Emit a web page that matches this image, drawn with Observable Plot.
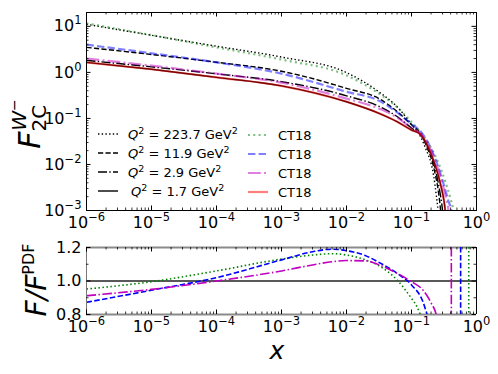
<!DOCTYPE html>
<html><head><meta charset="utf-8">
<script src="https://cdn.jsdelivr.net/npm/d3@7"></script>
<script src="https://cdn.jsdelivr.net/npm/@observablehq/plot@0.6"></script>
<style>
body{margin:0;background:#fff;}
#chart{position:relative;width:498px;height:374px;overflow:hidden;font-family:"DejaVu Sans";background:#fff;}
#chart svg{display:block;}
</style></head><body><div id="chart"></div>
<script>
// ---------- tick values and labels ----------
const xTicks = [1e-6, 1e-5, 1e-4, 1e-3, 1e-2, 1e-1, 1];
const xTickLabels = ["10^−6", "10^−5", "10^−4", "10^−3", "10^−2", "10^−1", "10^0"];
const yTopTicks = [1e-3, 1e-2, 1e-1, 1, 10];
const yTopTickLabels = ["10^−3", "10^−2", "10^−1", "10^0", "10^1"];
const yBotTicks = [0.8, 1.0, 1.2];
const yBotTickLabels = ["0.8", "1.0", "1.2"];
const yBotMinor = [0.9, 1.1];

// ---------- legend texts ----------
const q2Values = ["223.7", "11.9", "2.9", "1.7"];
const pdfName = "CT18";

// ---------- top panel: F2C^W- (this work, black) ----------
const xQ223 = [1e-6, 1e-5, 1e-4, 1e-3, 1e-2, 0.033, 0.06, 0.1, 0.138, 0.17, 0.2, 0.22, 0.24, 0.255, 0.265];
const fQ223 = [11.1, 6.4, 3.7, 2.15, 0.99, 0.36, 0.18, 0.074, 0.040, 0.020, 0.0105, 0.0055, 0.0022, 0.001, 0.0004];
const xQ119 = [1e-6, 1e-5, 1e-4, 1e-3, 1e-2, 0.033, 0.06, 0.1, 0.138, 0.17, 0.2, 0.23, 0.26, 0.28, 0.29];
const fQ119 = [3.5, 2.45, 1.66, 1.06, 0.45, 0.26, 0.141, 0.073, 0.047, 0.025, 0.014, 0.0065, 0.0025, 0.001, 0.0005];
const xQ29 = [1e-6, 1e-5, 1e-4, 1e-3, 1e-2, 0.033, 0.06, 0.1, 0.138, 0.17, 0.2, 0.24, 0.27, 0.30, 0.31];
const fQ29 = [1.82, 1.32, 0.93, 0.63, 0.31, 0.178, 0.11, 0.062, 0.044, 0.027, 0.016, 0.0065, 0.0028, 0.001, 0.0006];
const xQ17 = [1e-6, 1e-5, 1e-4, 1e-3, 1e-2, 0.033, 0.06, 0.1, 0.138, 0.2, 0.25, 0.29, 0.31, 0.33, 0.34];
const fQ17 = [1.65, 1.17, 0.78, 0.51, 0.23, 0.126, 0.085, 0.056, 0.045, 0.017, 0.0068, 0.003, 0.0019, 0.001, 0.0006];

// ---------- top panel: CT18 (coloured) ----------
const xCT223 = [1e-6, 1e-5, 1e-4, 1e-3, 1e-2, 0.033, 0.06, 0.1, 0.138, 0.196, 0.263, 0.333, 0.398, 0.438, 0.45];
const fCT223 = [11.6, 6.45, 3.5, 1.9, 0.86, 0.333, 0.176, 0.083, 0.050, 0.024, 0.0103, 0.0041, 0.0018, 0.001, 0.0007];
const xCT119 = [1e-6, 1e-5, 1e-4, 1e-3, 1e-2, 0.033, 0.06, 0.1, 0.138, 0.2, 0.26, 0.32, 0.37, 0.41, 0.42];
const fCT119 = [4.0, 2.6, 1.65, 0.94, 0.38, 0.235, 0.135, 0.075, 0.052, 0.022, 0.0085, 0.0033, 0.0016, 0.001, 0.0007];
const xCT29 = [1e-6, 1e-5, 1e-4, 1e-3, 1e-2, 0.033, 0.06, 0.1, 0.138, 0.2, 0.26, 0.31, 0.345, 0.37, 0.38];
const fCT29 = [2.0, 1.40, 0.94, 0.60, 0.27, 0.16, 0.105, 0.062, 0.046, 0.02, 0.0075, 0.0032, 0.0017, 0.001, 0.0006];
const xCT17 = [1e-6, 1e-5, 1e-4, 1e-3, 1e-2, 0.033, 0.06, 0.1, 0.138, 0.2, 0.25, 0.29, 0.31, 0.33, 0.34];
const fCT17 = [1.65, 1.17, 0.78, 0.51, 0.23, 0.126, 0.085, 0.056, 0.045, 0.017, 0.0068, 0.003, 0.0019, 0.001, 0.0006];

// ---------- bottom panel: ratio F / F^PDF ----------
const xR223 = [1e-6, 1e-5, 1e-4, 1e-3, 3e-3, 6e-3, 1e-2, 0.02, 0.03, 0.06, 0.1, 0.12, 0.137, 0.15];
const rR223 = [0.952, 0.996, 1.06, 1.131, 1.155, 1.163, 1.155, 1.125, 1.096, 1.006, 0.896, 0.85, 0.8, 0.76];
const xR119 = [1e-6, 1e-5, 1e-4, 1e-3, 3e-3, 6e-3, 1e-2, 0.02, 0.03, 0.06, 0.1, 0.15, 0.174, 0.185];
const rR119 = [0.873, 0.945, 1.02, 1.126, 1.175, 1.19, 1.181, 1.15, 1.116, 1.046, 0.976, 0.876, 0.8, 0.77];
const xR29 = [1e-6, 1e-5, 1e-4, 1e-3, 3e-3, 6e-3, 1e-2, 0.02, 0.03, 0.06, 0.1, 0.15, 0.2, 0.24, 0.25];
const rR29 = [0.912, 0.95, 1.0, 1.06, 1.096, 1.115, 1.122, 1.12, 1.10, 1.046, 0.996, 0.946, 0.87, 0.8, 0.77];
// positions where the ratios jump (vertical strokes)
const xJump223 = [0.76];
const xJump119 = [0.57];
const xJump29 = [0.41];

// ---------- helpers ----------
const rows = (xs, ys) => xs.map((x, i) => ({x, y: ys[i]}));
const minorLog = (k0, k1) => { const a = []; for (let k = k0; k <= k1; k++) for (let m = 2; m <= 9; m++) a.push(m * Math.pow(10, k)); return a; };
const xMinor = minorLog(-6, -1);
const yTopMinor = minorLog(-3, 0).concat([20]);
const NS = "http://www.w3.org/2000/svg";

const W = 498, L = 86, R = 22;
const topH = 240, topMT = 12, topMB = 30;
const botH = 134, botMT = 7, botMB = 60;
const fw = W - L - R;
const fhT = topH - topMT - topMB;
const fhB = botH - botMT - botMB;
const MAJ = 4.5, MIN = 2.5;

const sBlack = {dotted: "1.4,2.3", dashed: "5.2,2.3", dashdot: "9,2.3,1.4,2.3", solid: null};
const sCol = {dotted: "2,3.3", dashed: "7.4,3.2", dashdot: "12.8,3.2,2,3.2", solid: null};
const sBot = {dotted: "1.5,2.5", dashed: "5.5,2.4", dashdot: "9.6,2.4,1.5,2.4"};

function blackLine(xs, ys, dash) {
  return Plot.line(rows(xs, ys), {x: "x", y: "y", stroke: "black", strokeWidth: 1.4, strokeDasharray: dash, strokeLinecap: "butt", curve: "monotone-x", clip: true});
}
function colLine(xs, ys, color, dash) {
  return Plot.line(rows(xs, ys), {x: "x", y: "y", stroke: color, strokeOpacity: 0.5, strokeWidth: 2.2, strokeDasharray: dash, strokeLinecap: "butt", curve: "monotone-x", clip: true});
}
function botLine(xs, ys, color, dash) {
  return Plot.line(rows(xs, ys), {x: "x", y: "y", stroke: color, strokeWidth: 1.6, strokeDasharray: dash, strokeLinecap: "butt", curve: "monotone-x", clip: true});
}
function inwardTicks(xT, xMin, yT, yMin, fh) {
  return [
    Plot.ruleX(xT, {x: d => d, insetTop: fh - MAJ, stroke: "black"}),
    Plot.ruleX(xT, {x: d => d, insetBottom: fh - MAJ, stroke: "black"}),
    Plot.ruleX(xMin, {x: d => d, insetTop: fh - MIN, stroke: "black", strokeWidth: 0.8}),
    Plot.ruleX(xMin, {x: d => d, insetBottom: fh - MIN, stroke: "black", strokeWidth: 0.8}),
    Plot.ruleY(yT, {y: d => d, insetRight: fw - MAJ, stroke: "black"}),
    Plot.ruleY(yT, {y: d => d, insetLeft: fw - MAJ, stroke: "black"}),
    Plot.ruleY(yMin, {y: d => d, insetRight: fw - MIN, stroke: "black", strokeWidth: 0.8}),
    Plot.ruleY(yMin, {y: d => d, insetLeft: fw - MIN, stroke: "black", strokeWidth: 0.8})
  ];
}
function supify(svg, sel) {
  svg.querySelectorAll(sel).forEach(t => {
    const s = t.textContent, i = s.indexOf("^");
    if (i < 0) return;
    t.textContent = "";
    const a = document.createElementNS(NS, "tspan"); a.textContent = s.slice(0, i); t.appendChild(a);
    const b = document.createElementNS(NS, "tspan"); b.textContent = s.slice(i + 1);
    b.setAttribute("dy", "-7"); b.setAttribute("font-size", "11.5px"); t.appendChild(b);
  });
}

const xFmt = d => xTickLabels[xTicks.indexOf(d)];

// ---------- top plot ----------
const topPlot = Plot.plot({
  width: W, height: topH, marginLeft: L, marginRight: R, marginTop: topMT, marginBottom: topMB,
  style: {fontFamily: "DejaVu Sans", background: "white", overflow: "visible", color: "black"},
  x: {type: "log", domain: [1e-6, 1]},
  y: {type: "log", domain: [1e-3, 20]},
  marks: [
    blackLine(xQ223, fQ223, sBlack.dotted),
    blackLine(xQ119, fQ119, sBlack.dashed),
    blackLine(xQ29, fQ29, sBlack.dashdot),
    blackLine(xQ17, fQ17, sBlack.solid),
    colLine(xCT223, fCT223, "green", sCol.dotted),
    colLine(xCT119, fCT119, "blue", sCol.dashed),
    colLine(xCT29, fCT29, "#bf00bf", sCol.dashdot),
    colLine(xCT17, fCT17, "red", sCol.solid),
    Plot.frame({stroke: "black", strokeWidth: 1}),
    ...inwardTicks(xTicks, xMinor, yTopTicks, yTopMinor, fhT),
    Plot.axisX(xTicks, {tickSize: 0, tickPadding: 6, fontSize: 16, tickFormat: xFmt, label: null}),
    Plot.axisY(yTopTicks, {tickSize: 0, tickPadding: 5, fontSize: 16, tickFormat: d => yTopTickLabels[yTopTicks.indexOf(d)], label: null})
  ]
});

// ---------- bottom plot ----------
const botPlot = Plot.plot({
  width: W, height: botH, marginLeft: L, marginRight: R, marginTop: botMT, marginBottom: botMB,
  style: {fontFamily: "DejaVu Sans", background: "white", overflow: "visible", color: "black"},
  x: {type: "log", domain: [1e-6, 1]},
  y: {domain: [0.8, 1.2]},
  marks: [
    Plot.ruleY([0.8, 1.2], {y: d => d, stroke: "#8a8a8a", strokeWidth: 2}),
    Plot.ruleY([1.0], {y: d => d, stroke: "#222", strokeWidth: 1.4}),
    botLine(xR223, rR223, "green", sBot.dotted),
    botLine(xR119, rR119, "blue", sBot.dashed),
    botLine(xR29, rR29, "#bf00bf", sBot.dashdot),
    Plot.ruleX(xJump223, {x: d => d, stroke: "green", strokeWidth: 1.6, strokeDasharray: sBot.dotted}),
    Plot.ruleX(xJump119, {x: d => d, stroke: "blue", strokeWidth: 1.6, strokeDasharray: sBot.dashed}),
    Plot.ruleX(xJump29, {x: d => d, stroke: "#bf00bf", strokeWidth: 1.6, strokeDasharray: sBot.dashdot}),
    Plot.ruleX([1e-6], {x: d => d, stroke: "#777", strokeWidth: 1}),
    Plot.ruleX([1], {x: d => d, stroke: "black", strokeWidth: 1}),
    ...inwardTicks(xTicks, xMinor, yBotTicks, yBotMinor, fhB),
    Plot.axisX(xTicks, {tickSize: 0, tickPadding: 6, fontSize: 16, tickFormat: xFmt, label: null}),
    Plot.axisY(yBotTicks, {tickSize: 0, tickPadding: 5, fontSize: 16, tickFormat: d => yBotTickLabels[yBotTicks.indexOf(d)], label: null})
  ]
});

const chart = document.getElementById("chart");
chart.appendChild(topPlot);
chart.appendChild(botPlot);

supify(topPlot, 'g[aria-label="x-axis tick label"] text');
supify(topPlot, 'g[aria-label="y-axis tick label"] text');
supify(botPlot, 'g[aria-label="x-axis tick label"] text');

// ---------- axis titles ----------
const tsv = d3.select(topPlot);
const yl = tsv.append("text").attr("transform", "translate(40,124) rotate(-90)").attr("text-anchor", "middle")
  .style("font-size", "30px").style("font-family", "DejaVu Sans").attr("fill", "black");
yl.append("tspan").style("font-style", "italic").text("F");
yl.append("tspan").attr("dy", 6).style("font-size", "20px").text("2C");
yl.append("tspan").attr("dx", -26).attr("dy", -20).style("font-size", "20px").style("font-style", "italic").text("W");
yl.append("tspan").attr("dy", -7).style("font-size", "14px").text("−");

const bsv = d3.select(botPlot);
const yl2 = bsv.append("text").attr("transform", "translate(46,40) rotate(-90)").attr("text-anchor", "middle")
  .style("font-size", "28px").style("font-family", "DejaVu Sans").attr("fill", "black");
yl2.append("tspan").style("font-style", "italic").text("F/F");
yl2.append("tspan").attr("dy", -12).style("font-size", "16px").text("PDF");

bsv.append("text").attr("x", 277).attr("y", 119).attr("text-anchor", "middle")
  .style("font-size", "25px").style("font-style", "italic").style("font-family", "DejaVu Sans").attr("fill", "black").text("x");

// ---------- legend ----------
const rowsY = [134, 153, 172, 191];
const blackDashes = [sBlack.dotted, sBlack.dashed, sBlack.dashdot, sBlack.solid];
const colColors = ["green", "blue", "#bf00bf", "red"];
const colDashes = [sCol.dotted, sCol.dashed, sCol.dashdot, sCol.solid];
const lg = tsv.append("g").style("font-family", "DejaVu Sans").style("font-size", "13px").attr("text-anchor", "start");
rowsY.forEach((y, i) => {
  lg.append("line").attr("x1", 98).attr("x2", 118).attr("y1", y).attr("y2", y)
    .attr("stroke", "black").attr("stroke-width", 1.4).attr("stroke-dasharray", blackDashes[i]);
  const t = lg.append("text").attr("x", i === 3 ? 131 : 128).attr("y", y + 5).attr("fill", "black").attr("text-anchor", "start");
  t.append("tspan").style("font-style", "italic").text("Q");
  t.append("tspan").attr("dy", -5).style("font-size", "9.5px").text("2");
  t.append("tspan").attr("dy", 5).text(" = " + q2Values[i] + " GeV");
  t.append("tspan").attr("dy", -5).style("font-size", "9.5px").text("2");
  lg.append("line").attr("x1", 248).attr("x2", 268).attr("y1", y + 1).attr("y2", y + 1)
    .attr("stroke", colColors[i]).attr("stroke-opacity", 0.5).attr("stroke-width", 2.2).attr("stroke-dasharray", colDashes[i]);
  lg.append("text").attr("x", 278).attr("y", y + 6).attr("fill", "black").attr("text-anchor", "start").text(pdfName);
});
</script></body></html>
